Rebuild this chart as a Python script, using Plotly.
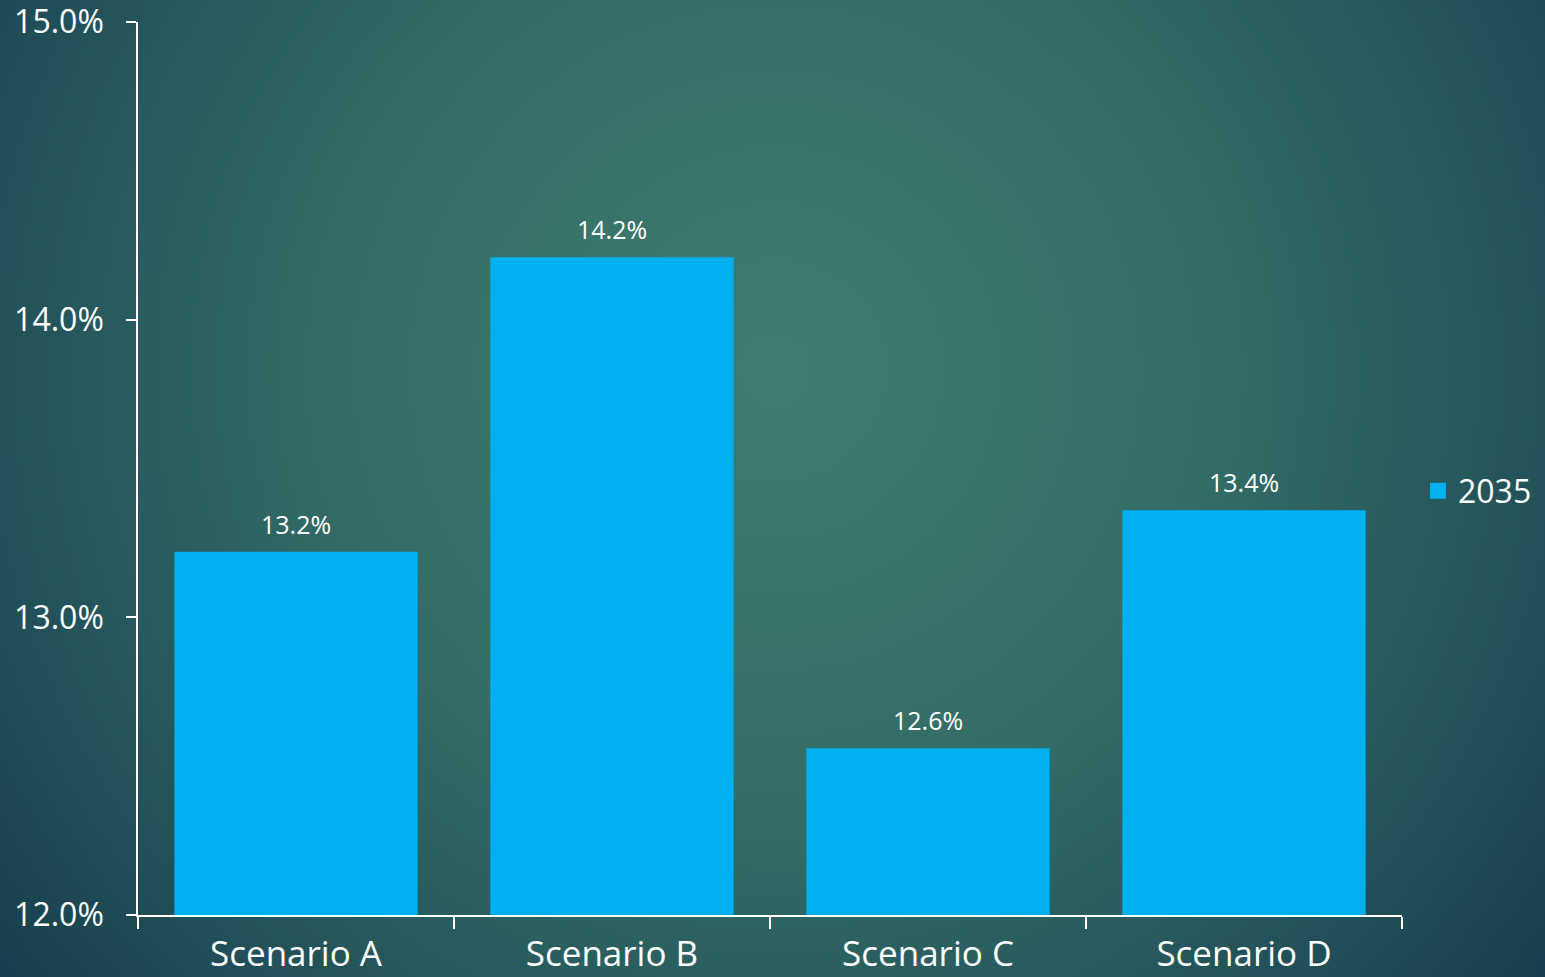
import base64
import plotly.graph_objects as go

categories = ["Scenario A", "Scenario B", "Scenario C", "Scenario D"]
values_2035 = [13.22, 14.21, 12.56, 13.36]
series_name = "2035"
y_ticks = [12.0, 13.0, 14.0, 15.0]

W, H = 1545, 977
ML, MR, MT, MB = 138, 143, 22, 62
PW, PH = W - ML - MR, H - MT - MB

svg = f'''<svg xmlns="http://www.w3.org/2000/svg" width="{W}" height="{H}" viewBox="0 0 {W} {H}">
<defs><radialGradient id="g" gradientUnits="userSpaceOnUse" cx="775" cy="370" r="1000">
<stop offset="0" stop-color="#3f7c6f"/>
<stop offset="0.45" stop-color="#336c66"/>
<stop offset="0.8" stop-color="#214f58"/>
<stop offset="1" stop-color="#163c4b"/>
</radialGradient></defs>
<rect width="{W}" height="{H}" fill="url(#g)"/></svg>'''
src = "data:image/svg+xml;base64," + base64.b64encode(svg.encode()).decode()

FONT = "Open Sans"
BAR_COLOR = "#00B0F0"
fig = go.Figure()
fig.add_trace(go.Bar(
    x=categories, y=values_2035, name=series_name,
    marker=dict(color=BAR_COLOR, line=dict(width=0)),
    hoverinfo="skip", showlegend=False,
))
fig.add_trace(go.Scatter(
    x=[None], y=[None], mode="markers", name=series_name,
    marker=dict(symbol="square", size=16, color=BAR_COLOR, line=dict(width=0)),
    hoverinfo="skip",
))
for c, v in zip(categories, values_2035):
    fig.add_annotation(x=c, y=v, text=f"{v:.1f}%", showarrow=False,
                       yanchor="bottom", yshift=9,
                       font=dict(family=FONT, size=25, color="white"))

fig.update_layout(
    width=W, height=H,
    margin=dict(l=ML, r=MR, t=MT, b=MB, autoexpand=False),
    paper_bgcolor="#1f4a55", plot_bgcolor="rgba(0,0,0,0)",
    bargap=0.23,
    showlegend=True,
    legend=dict(x=(1418 - ML) / PW, y=(915 - 491) / PH, xanchor="left", yanchor="middle",
                font=dict(family=FONT, size=32, color="white"),
                bgcolor="rgba(0,0,0,0)", itemwidth=30),
    images=[dict(source=src, xref="paper", yref="paper",
                 x=-ML / PW, y=1 + MT / PH, sizex=W / PW, sizey=H / PH,
                 xanchor="left", yanchor="top", sizing="stretch", layer="below")],
    font=dict(family=FONT, color="white"),
)
fig.update_yaxes(range=[12, 15], tickvals=y_ticks, ticktext=[f"{t:.1f}%" for t in y_ticks],
                 showgrid=False, zeroline=False, showline=True, linecolor="white", linewidth=1.5,
                 ticks="outside", ticklen=10, tickcolor="white", tickwidth=1.5, automargin=False,
                 ticklabeloverflow="allow",
                 tickfont=dict(family=FONT, size=32, color="white"), ticklabelstandoff=16)
fig.update_xaxes(showgrid=False, showline=True, linecolor="white", linewidth=1.5,
                 ticks="outside", tickson="boundaries", ticklen=12, tickcolor="white", tickwidth=1.5,
                 automargin=False, ticklabeloverflow="allow",
                 tickfont=dict(family=FONT, size=35, color="white"), ticklabelstandoff=7)

fig.write_html("out.html", config={"displayModeBar": False},
               post_script="document.body.style.margin='0';document.body.style.padding='0';document.body.style.overflow='hidden';")
